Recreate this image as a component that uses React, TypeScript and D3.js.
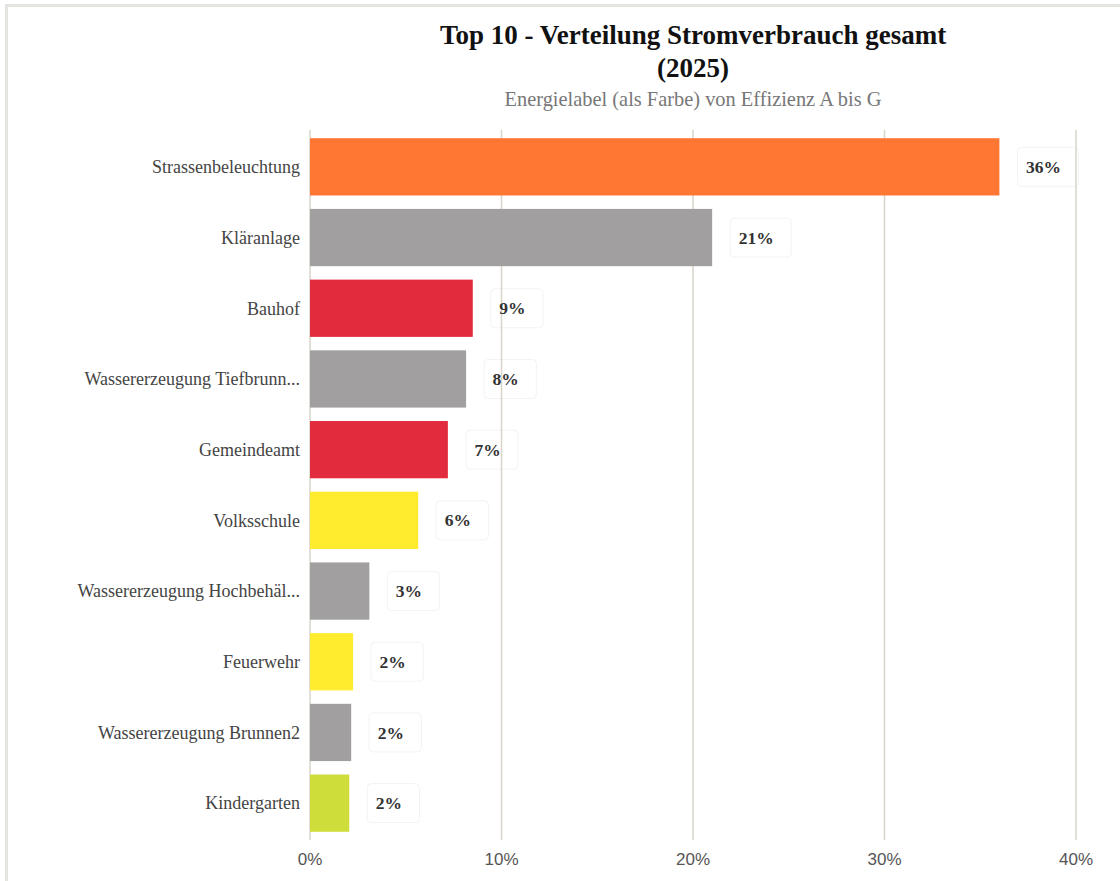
import React, { useEffect, useRef } from "react";
import * as d3 from "d3";

const categories = [
  "Strassenbeleuchtung",
  "Kläranlage",
  "Bauhof",
  "Wassererzeugung Tiefbrunn...",
  "Gemeindeamt",
  "Volksschule",
  "Wassererzeugung Hochbehäl...",
  "Feuerwehr",
  "Wassererzeugung Brunnen2",
  "Kindergarten",
];
const values = [36.0, 21.0, 8.5, 8.15, 7.2, 5.65, 3.1, 2.25, 2.15, 2.05];
const labels = ["36%", "21%", "9%", "8%", "7%", "6%", "3%", "2%", "2%", "2%"];
const barColors = [
  "#ff7733",
  "#a19f9f",
  "#e32b3e",
  "#a19f9f",
  "#e32b3e",
  "#ffec2e",
  "#a19f9f",
  "#ffec2e",
  "#a19f9f",
  "#cfdd3a",
];
const xTicks = [0, 10, 20, 30, 40];
const title1 = "Top 10 - Verteilung Stromverbrauch gesamt";
const title2 = "(2025)";
const subtitle = "Energielabel (als Farbe) von Effizienz A bis G";

const W = 1120;
const H = 881;
const serif = "'Liberation Serif', 'Times New Roman', serif";
const sans = "'Liberation Sans', Arial, sans-serif";

export default function App() {
  const ref = useRef<SVGSVGElement | null>(null);

  useEffect(() => {
    const svg = d3.select(ref.current);
    svg.selectAll("*").remove();

    const x = d3.scaleLinear().domain([0, 40]).range([310, 1076]);
    const y = d3
      .scaleBand<string>()
      .domain(categories)
      .range([131.5, 838.5])
      .paddingInner(0.19)
      .paddingOuter(0.095);

    // frame
    svg
      .append("rect")
      .attr("x", 6.5)
      .attr("y", 5.5)
      .attr("width", W + 20)
      .attr("height", H + 20)
      .attr("fill", "#fff")
      .attr("stroke", "#e4e4e0")
      .attr("stroke-width", 3);

    // titles
    const cx = (x(0) + x(40)) / 2;
    svg
      .append("text")
      .attr("x", cx)
      .attr("y", 44)
      .attr("text-anchor", "middle")
      .attr("font-family", serif)
      .attr("font-weight", "bold")
      .attr("font-size", 27)
      .attr("fill", "#111")
      .text(title1);
    svg
      .append("text")
      .attr("x", cx)
      .attr("y", 77)
      .attr("text-anchor", "middle")
      .attr("font-family", serif)
      .attr("font-weight", "bold")
      .attr("font-size", 27)
      .attr("fill", "#111")
      .text(title2);
    svg
      .append("text")
      .attr("x", cx)
      .attr("y", 106)
      .attr("text-anchor", "middle")
      .attr("font-family", serif)
      .attr("font-size", 20.4)
      .attr("fill", "#777")
      .text(subtitle);

    // label boxes (drawn beneath grid lines)
    const boxG = svg.append("g");
    const gridG = svg.append("g");
    const barG = svg.append("g");
    const textG = svg.append("g");

    // grid
    gridG
      .selectAll("line")
      .data(xTicks)
      .join("line")
      .attr("x1", (d) => x(d))
      .attr("x2", (d) => x(d))
      .attr("y1", 130)
      .attr("y2", 840)
      .attr("stroke", "#d8d4c8")
      .attr("stroke-width", 1.5);

    // x tick labels
    svg
      .append("g")
      .selectAll("text")
      .data(xTicks)
      .join("text")
      .attr("x", (d) => x(d))
      .attr("y", 865)
      .attr("text-anchor", "middle")
      .attr("font-family", sans)
      .attr("font-size", 17)
      .attr("fill", "#555")
      .text((d) => `${d}%`);

    // bars
    barG
      .selectAll("rect")
      .data(categories)
      .join("rect")
      .attr("x", x(0))
      .attr("y", (d) => y(d)!)
      .attr("width", (_d, i) => x(values[i]) - x(0))
      .attr("height", y.bandwidth())
      .attr("fill", (_d, i) => barColors[i]);

    // category labels
    svg
      .append("g")
      .selectAll("text")
      .data(categories)
      .join("text")
      .attr("x", 300)
      .attr("y", (d) => y(d)! + y.bandwidth() / 2)
      .attr("dy", "0.35em")
      .attr("text-anchor", "end")
      .attr("font-family", serif)
      .attr("font-size", 18)
      .attr("fill", "#444")
      .text((d) => d);

    // data labels
    categories.forEach((c, i) => {
      const bx = x(values[i]) + 18;
      const cy = y(c)! + y.bandwidth() / 2;
      const rect = boxG
        .append("rect")
        .attr("y", cy - 19.5)
        .attr("height", 39)
        .attr("rx", 4)
        .attr("fill", "#fff")
        .attr("stroke", "#f3f3f3")
        .attr("stroke-width", 1);
      const t = textG
        .append("text")
        .attr("x", bx + 8.5)
        .attr("y", cy)
        .attr("dy", "0.35em")
        .attr("font-family", serif)
        .attr("font-weight", "bold")
        .attr("font-size", 17.5)
        .attr("fill", "#333")
        .text(labels[i]);
      const tw = (t.node() as SVGTextElement).getComputedTextLength();
      rect.attr("x", bx).attr("width", tw + 26);
    });
  }, []);

  return (
    <div style={{ position: "fixed", left: 0, top: 0, width: W, height: H, background: "#fff" }}>
      <svg ref={ref} width={W} height={H} style={{ display: "block" }} />
    </div>
  );
}
